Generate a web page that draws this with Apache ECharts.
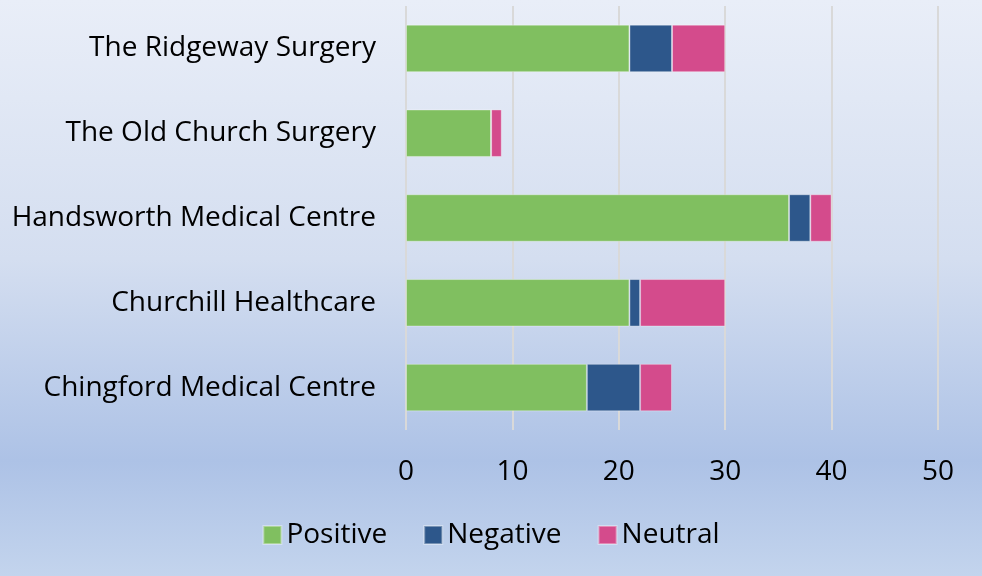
<!DOCTYPE html>
<html>
<head>
<meta charset="utf-8">
<script src="https://cdn.jsdelivr.net/npm/echarts@6/dist/echarts.min.js"></script>
<style>
  html, body { margin: 0; padding: 0; }
  #main { width: 982px; height: 576px; }
</style>
</head>
<body>
<div id="main"></div>
<script>
// categories, bottom to top like the chart
const practices = ['Chingford Medical Centre', 'Churchill Healthcare', 'Handsworth Medical Centre', 'The Old Church Surgery', 'The Ridgeway Surgery'];
const positive = [17, 21, 36, 8, 21];
const negative = [5, 1, 2, 0, 4];
const neutral = [3, 8, 2, 1, 5];

const font = '"Open Sans", "Noto Sans", sans-serif';

const myChart = echarts.init(document.getElementById('main'));

function barSeries(name, data, color) {
  return {
    name: name,
    type: 'bar',
    stack: 'total',
    barWidth: '56%',
    data: data,
    itemStyle: { color: color, borderColor: 'rgba(255,255,255,0.35)', borderWidth: 1 },
    emphasis: { disabled: true }
  };
}

const option = {
  backgroundColor: {
    type: 'linear', x: 0, y: 0, x2: 0, y2: 1,
    colorStops: [
      { offset: 0, color: '#e9eef8' },
      { offset: 0.45, color: '#d4def0' },
      { offset: 0.8, color: '#adc2e6' },
      { offset: 1, color: '#c3d4ed' }
    ]
  },
  animation: false,
  grid: { left: 406, right: 44, top: 6, bottom: 146 },
  legend: {
    bottom: 22,
    left: 'center',
    itemWidth: 18,
    itemHeight: 18,
    itemGap: 36,
    icon: 'rect',
    textStyle: { fontFamily: font, fontSize: 28, color: '#000' },
    data: ['Positive', 'Negative', 'Neutral']
  },
  xAxis: {
    type: 'value',
    min: 0,
    max: 50,
    interval: 10,
    axisLine: { show: false },
    axisTick: { show: false },
    axisLabel: { fontFamily: font, fontSize: 28, color: '#000', margin: 28 },
    splitLine: { lineStyle: { color: '#d9d9d9', width: 2 } }
  },
  yAxis: {
    type: 'category',
    data: practices,
    axisLine: { show: false },
    axisTick: { show: false },
    axisLabel: { fontFamily: font, fontSize: 28, color: '#000', margin: 30 }
  },
  series: [
    barSeries('Positive', positive, '#80bf60'),
    barSeries('Negative', negative, '#2d578b'),
    barSeries('Neutral', neutral, '#d44b8c')
  ]
};

myChart.setOption(option);
</script>
</body>
</html>
